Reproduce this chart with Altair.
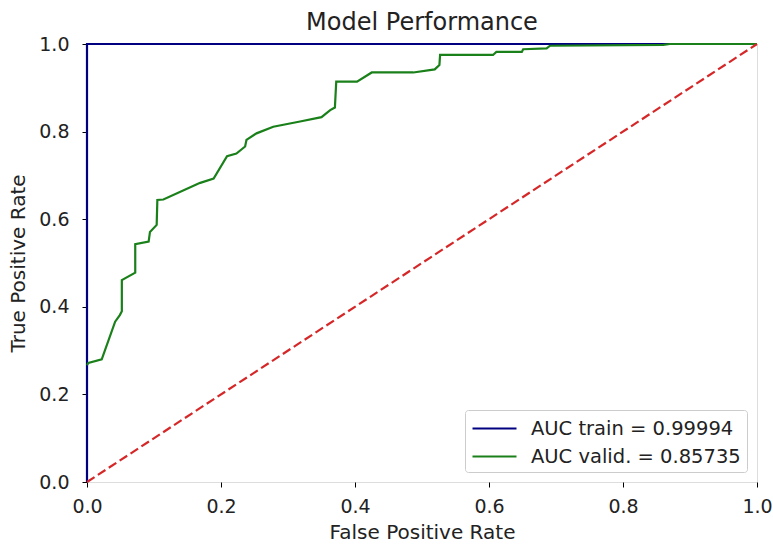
import altair as alt
import pandas as pd

# ROC data
train_fpr = [0.0, 0.0, 1.0]
train_tpr = [0.0, 1.0, 1.0]

valid_fpr = [0.000, 0.002, 0.022, 0.042, 0.049, 0.052, 0.052, 0.072, 0.072, 0.092,
             0.094, 0.104, 0.105, 0.114, 0.164, 0.169, 0.189, 0.209, 0.223, 0.236,
             0.238, 0.253, 0.278, 0.318, 0.350, 0.363, 0.370, 0.372, 0.403, 0.425,
             0.487, 0.519, 0.526, 0.527, 0.606, 0.611, 0.649, 0.651, 0.686, 0.691,
             0.860, 0.870, 1.000]
valid_tpr = [0.267, 0.272, 0.280, 0.366, 0.381, 0.390, 0.461, 0.478, 0.543, 0.549,
             0.571, 0.587, 0.644, 0.645, 0.680, 0.683, 0.693, 0.744, 0.750, 0.766,
             0.781, 0.796, 0.811, 0.823, 0.833, 0.849, 0.855, 0.914, 0.914, 0.935,
             0.935, 0.942, 0.952, 0.975, 0.975, 0.982, 0.982, 0.988, 0.990, 0.996,
             0.998, 1.000, 1.000]

diag = [0.0, 1.0]

series_names = ["AUC train = 0.99994", "AUC valid. = 0.85735"]
series_colors = ["#000080", "#1a801a"]
tick_values = [0.0, 0.2, 0.4, 0.6, 0.8, 1.0]

rows = []
for i, (x, y) in enumerate(zip(train_fpr, train_tpr)):
    rows.append({"fpr": x, "tpr": y, "series": series_names[0], "i": i})
for i, (x, y) in enumerate(zip(valid_fpr, valid_tpr)):
    rows.append({"fpr": x, "tpr": y, "series": series_names[1], "i": i})
df = pd.DataFrame(rows)
diag_df = pd.DataFrame({"fpr": diag, "tpr": diag})

font = "DejaVu Sans"

xscale = alt.Scale(domain=[0, 1], nice=False, zero=False)
yscale = alt.Scale(domain=[0, 1], nice=False, zero=False)

xaxis = alt.Axis(title="False Positive Rate", values=tick_values, format=".1f",
                 grid=False, domain=False, ticks=True, tickSize=5, tickColor="black",
                 labelFontSize=19, labelFont=font, labelColor="#222222", labelPadding=10,
                 titleFontSize=20, titleFont=font, titleFontWeight="normal",
                 titleColor="#222222", titlePadding=6, labelFlush=False)
yaxis = alt.Axis(title="True Positive Rate", values=tick_values, format=".1f",
                 grid=False, domain=False, ticks=True, tickSize=5, tickColor="black",
                 labelFontSize=19, labelFont=font, labelColor="#222222", labelPadding=13,
                 titleFontSize=20, titleFont=font, titleFontWeight="normal",
                 titleColor="#222222", titlePadding=10, labelFlush=False)

curves = alt.Chart(df).mark_line(strokeWidth=2.2).encode(
    x=alt.X("fpr:Q", scale=xscale, axis=xaxis),
    y=alt.Y("tpr:Q", scale=yscale, axis=yaxis),
    color=alt.Color("series:N",
                    scale=alt.Scale(domain=series_names, range=series_colors),
                    legend=alt.Legend(title=None, orient="bottom-right", offset=10,
                                      symbolType="M-1,0H3", symbolSize=484,
                                      symbolStrokeWidth=2.2, labelOffset=35,
                                      labelFontSize=19.5, labelFont=font,
                                      labelColor="#222222", rowPadding=6,
                                      labelLimit=400,
                                      padding=6, strokeColor="#cccccc",
                                      fillColor="white", cornerRadius=3)),
    order="i:Q",
)

diag_line = alt.Chart(diag_df).mark_line(strokeWidth=2.2, strokeDash=[9, 4],
                                         color="#d62728").encode(
    x=alt.X("fpr:Q", scale=xscale),
    y=alt.Y("tpr:Q", scale=yscale),
)

chart = alt.layer(curves, diag_line).properties(
    width=670, height=438,
    title=alt.TitleParams("Model Performance", fontSize=24, font=font,
                          fontWeight="normal", color="#222222", anchor="middle",
                          offset=0),
    autosize=alt.AutoSizeParams(type="none"),
    padding={"left": 87, "top": 44, "right": 16, "bottom": 62},
).configure_view(stroke="black", strokeWidth=1.2).configure(background="white")

chart.save("out.html", embed_options={"renderer": "svg", "actions": False})
